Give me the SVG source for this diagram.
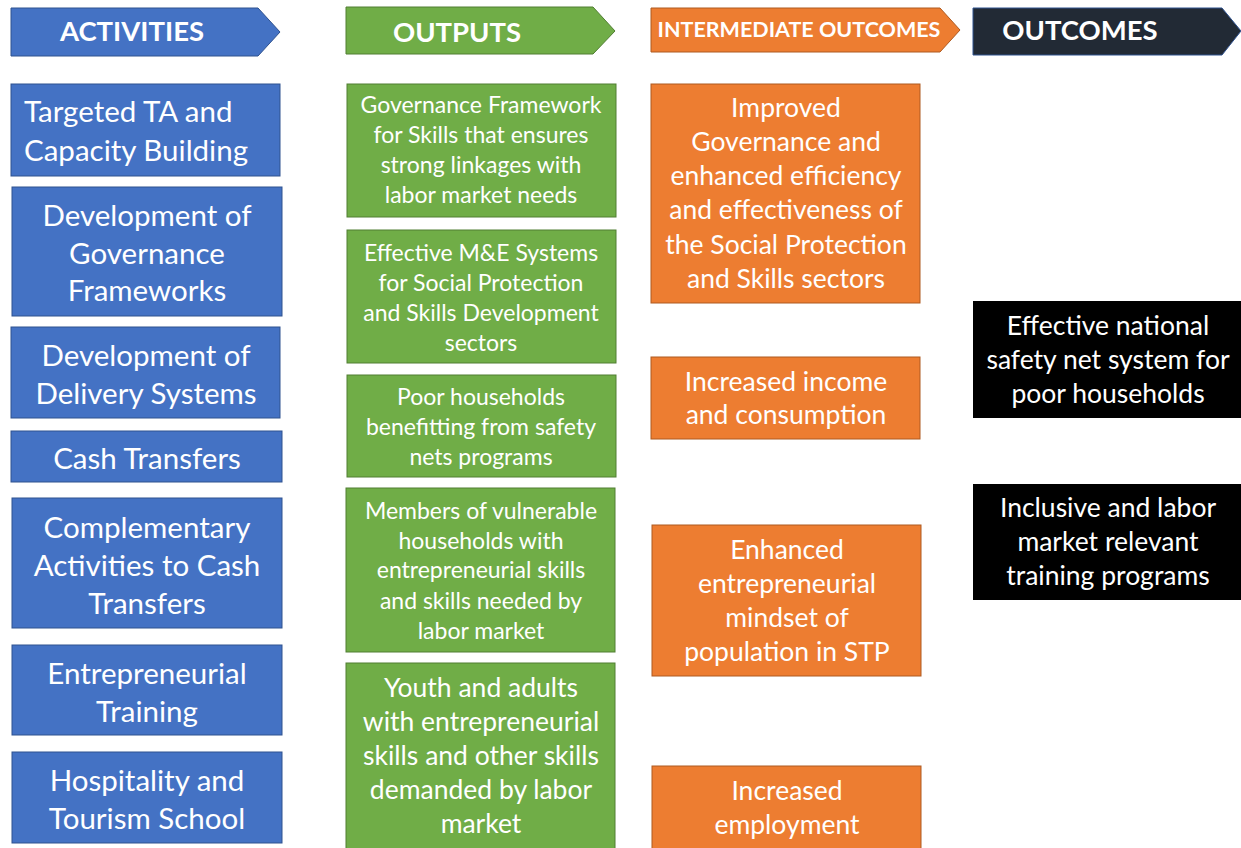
<svg xmlns="http://www.w3.org/2000/svg" width="1241" height="848" viewBox="0 0 1241 848">
  <style>
    text { font-family: Lato, "Open Sans", "Liberation Sans", sans-serif; fill: #ffffff; text-anchor: middle; }
    .hdr { font-weight: bold; font-size: 27.5px; }
    .hdr-s { font-weight: bold; font-size: 21.5px; }
    .act { fill: #4472C4; stroke: #2F528F; stroke-width: 1; }
    .out { fill: #70AD47; stroke: #507E32; stroke-width: 1; }
    .imo { fill: #ED7D31; stroke: #AE5A21; stroke-width: 1; }
    .fin { fill: #000000; }
    .t-act { font-size: 29.5px; }
    .t-out { font-size: 23px; }
    .t-big { font-size: 26.5px; }
  </style>

  <!-- column headers -->
  <g id="header-activities">
    <polygon points="11,8 258,8 280,32 258,56 11,56" fill="#4472C4" stroke="#2F528F"/>
    <text class="hdr" x="132" y="41">ACTIVITIES</text>
  </g>
  <g id="header-outputs">
    <polygon points="346,7 593,7 615,31 593,54 346,54" fill="#70AD47" stroke="#507E32"/>
    <text class="hdr" x="457" y="42">OUTPUTS</text>
  </g>
  <g id="header-intermediate">
    <polygon points="651,8 940,8 960,30 940,52 651,52" fill="#ED7D31" stroke="#AE5A21"/>
    <text class="hdr-s" x="799" y="37">INTERMEDIATE OUTCOMES</text>
  </g>
  <g id="header-outcomes">
    <polygon points="973,8 1222,8 1241,31 1222,55 973,55" fill="#222A35" stroke="#2F528F"/>
    <text class="hdr" x="1080" y="40">OUTCOMES</text>
  </g>

  <!-- activities -->
  <g id="act-ta">
    <rect class="act" x="11" y="84" width="269" height="92"/>
    <text class="t-act" x="24" y="122" style="text-anchor:start">Targeted TA and</text>
    <text class="t-act" x="24" y="161" style="text-anchor:start">Capacity Building</text>
  </g>
  <g id="act-governance">
    <rect class="act" x="12" y="187" width="270" height="129"/>
    <text class="t-act" x="147" y="226">Development of</text>
    <text class="t-act" x="147" y="264">Governance</text>
    <text class="t-act" x="147" y="301">Frameworks</text>
  </g>
  <g id="act-delivery">
    <rect class="act" x="11" y="327" width="269" height="91"/>
    <text class="t-act" x="146" y="366">Development of</text>
    <text class="t-act" x="146" y="404">Delivery Systems</text>
  </g>
  <g id="act-cash">
    <rect class="act" x="11" y="431" width="271" height="51"/>
    <text class="t-act" x="147" y="469">Cash Transfers</text>
  </g>
  <g id="act-complementary">
    <rect class="act" x="12" y="498" width="270" height="130"/>
    <text class="t-act" x="147" y="538">Complementary</text>
    <text class="t-act" x="147" y="576">Activities to Cash</text>
    <text class="t-act" x="147" y="614">Transfers</text>
  </g>
  <g id="act-entrepreneurial">
    <rect class="act" x="12" y="645" width="270" height="90"/>
    <text class="t-act" x="147" y="684">Entrepreneurial</text>
    <text class="t-act" x="147" y="722">Training</text>
  </g>
  <g id="act-hospitality">
    <rect class="act" x="12" y="752" width="270" height="91"/>
    <text class="t-act" x="147" y="791">Hospitality and</text>
    <text class="t-act" x="147" y="829">Tourism School</text>
  </g>

  <!-- outputs -->
  <g id="out-framework">
    <rect class="out" x="347" y="84" width="269" height="133"/>
    <text class="t-out" x="481" y="113">Governance Framework</text>
    <text class="t-out" x="481" y="143">for Skills that ensures</text>
    <text class="t-out" x="481" y="173">strong linkages with</text>
    <text class="t-out" x="481" y="203">labor market needs</text>
  </g>
  <g id="out-me">
    <rect class="out" x="347" y="230" width="269" height="133"/>
    <text class="t-out" x="481" y="261">Effective M&amp;E Systems</text>
    <text class="t-out" x="481" y="291">for Social Protection</text>
    <text class="t-out" x="481" y="321">and Skills Development</text>
    <text class="t-out" x="481" y="351">sectors</text>
  </g>
  <g id="out-households">
    <rect class="out" x="347" y="375" width="269" height="102"/>
    <text class="t-out" x="481" y="405">Poor households</text>
    <text class="t-out" x="481" y="435">benefitting from safety</text>
    <text class="t-out" x="481" y="465">nets programs</text>
  </g>
  <g id="out-members">
    <rect class="out" x="346" y="488" width="269" height="164"/>
    <text class="t-out" x="481" y="519">Members of vulnerable</text>
    <text class="t-out" x="481" y="549">households with</text>
    <text class="t-out" x="481" y="578">entrepreneurial skills</text>
    <text class="t-out" x="481" y="609">and skills needed by</text>
    <text class="t-out" x="481" y="639">labor market</text>
  </g>
  <g id="out-youth">
    <rect class="out" x="346" y="663" width="269" height="190"/>
    <text class="t-big" x="481" y="697">Youth and adults</text>
    <text class="t-big" x="481" y="731">with entrepreneurial</text>
    <text class="t-big" x="481" y="765">skills and other skills</text>
    <text class="t-big" x="481" y="799">demanded by labor</text>
    <text class="t-big" x="481" y="833">market</text>
  </g>

  <!-- intermediate outcomes -->
  <g id="imo-governance">
    <rect class="imo" x="651" y="84" width="269" height="219"/>
    <text class="t-big" x="786" y="117">Improved</text>
    <text class="t-big" x="786" y="151">Governance and</text>
    <text class="t-big" x="786" y="185">enhanced efficiency</text>
    <text class="t-big" x="786" y="219">and effectiveness of</text>
    <text class="t-big" x="786" y="254">the Social Protection</text>
    <text class="t-big" x="786" y="288">and Skills sectors</text>
  </g>
  <g id="imo-income">
    <rect class="imo" x="651" y="357" width="269" height="82"/>
    <text class="t-big" x="786" y="391">Increased income</text>
    <text class="t-big" x="786" y="424">and consumption</text>
  </g>
  <g id="imo-mindset">
    <rect class="imo" x="652" y="525" width="269" height="151"/>
    <text class="t-big" x="787" y="559">Enhanced</text>
    <text class="t-big" x="787" y="593">entrepreneurial</text>
    <text class="t-big" x="787" y="627">mindset of</text>
    <text class="t-big" x="787" y="661">population in STP</text>
  </g>
  <g id="imo-employment">
    <rect class="imo" x="652" y="766" width="269" height="90"/>
    <text class="t-big" x="787" y="800">Increased</text>
    <text class="t-big" x="787" y="834">employment</text>
  </g>

  <!-- outcomes -->
  <g id="fin-safety-net">
    <rect class="fin" x="973" y="301" width="268" height="117"/>
    <text class="t-big" x="1108" y="335">Effective national</text>
    <text class="t-big" x="1108" y="369">safety net system for</text>
    <text class="t-big" x="1108" y="403">poor households</text>
  </g>
  <g id="fin-training">
    <rect class="fin" x="973" y="484" width="268" height="116"/>
    <text class="t-big" x="1108" y="517">Inclusive and labor</text>
    <text class="t-big" x="1108" y="551">market relevant</text>
    <text class="t-big" x="1108" y="585">training programs</text>
  </g>
</svg>
